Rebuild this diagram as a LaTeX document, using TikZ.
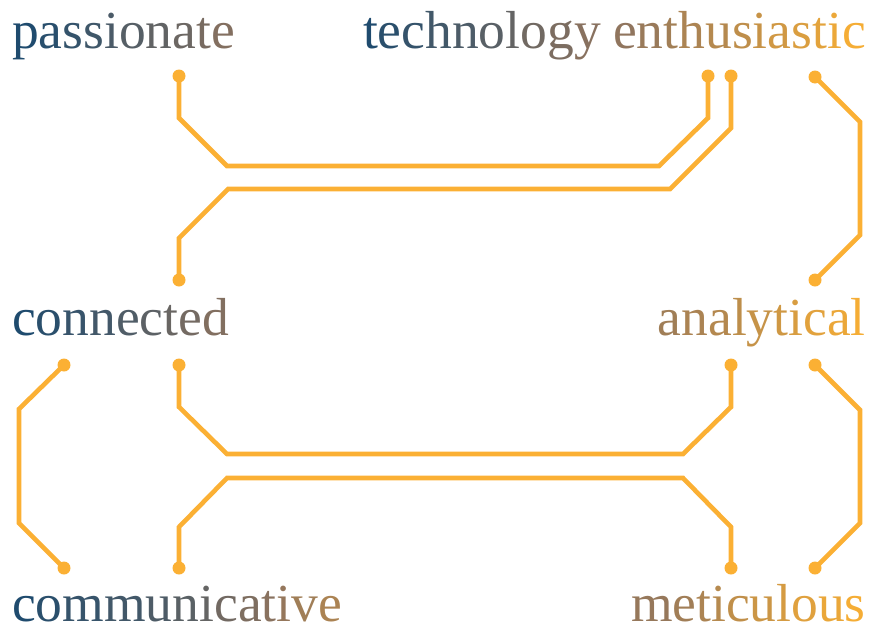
\documentclass[tikz,border=0pt]{standalone}
\usepackage{fontspec}
\usepackage{xstring}
\setmainfont{Liberation Serif}

\definecolor{wblue}{HTML}{1F4B6E}
\definecolor{wmid}{HTML}{8F745E}
\definecolor{worange}{HTML}{F5AD35}
\definecolor{traceorange}{HTML}{FBB034}

% letter by letter colour ramp: blue -> mid -> orange, from fraction #1 to #2
\newcommand{\gradword}[3]{%
  \StrLen{#3}[\gwLen]%
  \foreach \gwI in {1,...,\gwLen}{%
    \pgfmathsetmacro\gwF{#1+(#2-#1)*(\gwI-1)/(\gwLen-1)}%
    \StrChar{#3}{\gwI}[\gwChar]%
    \pgfmathtruncatemacro\gwLow{\gwF<0.5}%
    \ifnum\gwLow=1
      \pgfmathtruncatemacro\gwP{200*\gwF}%
      \textcolor{wmid!\gwP!wblue}{\gwChar}%
    \else
      \pgfmathtruncatemacro\gwP{200*\gwF-100}%
      \textcolor{worange!\gwP!wmid}{\gwChar}%
    \fi}}

\tikzset{
  word/.style={inner sep=0pt, font=\fontsize{53.5}{60}\selectfont},
  pad/.style={circle, fill=traceorange, inner sep=0pt, minimum size=13pt},
  trace/.style={draw=traceorange, line width=4.6pt, line join=miter}
}

\begin{document}
\begin{tikzpicture}[x=1pt, y=-1pt]
    \useasboundingbox (0,0) rectangle (871,627);

    % words
    \node[word, anchor=base west] (passionate) at (12,48) {\gradword{0}{0.45}{passionate}};
    \node[word, anchor=base east] (enth) at (866,48) {\gradword{0.51}{1}{enthusiastic}};
    \node[word, anchor=base east] (tech) at ([xshift=-12pt]enth.base west) {\gradword{0}{0.47}{technology}};
    \node[word, anchor=base west] (connected) at (12,335) {\gradword{0}{0.44}{connected}};
    \node[word, anchor=base east] (analytical) at (866,335) {\gradword{0.59}{1}{analytical}};
    \node[word, anchor=base west] (communicative) at (12,621) {\gradword{0}{0.64}{communicative}};
    \node[word, anchor=base east] (meticulous) at (866,621) {\gradword{0.54}{1}{meticulous}};

    % pads
    \node[pad] (pa1) at (179,76) {};
    \node[pad] (te1) at (708,76) {};
    \node[pad] (en1) at (731,76) {};
    \node[pad] (en2) at (815,77) {};
    \node[pad] (co1) at (179,280) {};
    \node[pad] (an1) at (815,280) {};
    \node[pad] (co2) at (64,365) {};
    \node[pad] (co3) at (179,365) {};
    \node[pad] (an2) at (731,365) {};
    \node[pad] (an3) at (815,365) {};
    \node[pad] (cm1) at (64,568) {};
    \node[pad] (cm2) at (179,568) {};
    \node[pad] (me1) at (731,568) {};
    \node[pad] (me2) at (815,568) {};

    % traces
    \draw[trace] (pa1.center) -- (179,118) -- (227,166) -- (659,166) -- (708,118) -- (te1.center);
    \draw[trace] (en1.center) -- (731,128) -- (670,189) -- (228,189) -- (179,238) -- (co1.center);
    \draw[trace] (en2.center) -- (860,122) -- (860,235) -- (an1.center);
    \draw[trace] (co2.center) -- (19,409) -- (19,523) -- (cm1.center);
    \draw[trace] (co3.center) -- (179,407) -- (227,454) -- (683,454) -- (731,407) -- (an2.center);
    \draw[trace] (cm2.center) -- (179,527) -- (227,478) -- (683,478) -- (731,527) -- (me1.center);
    \draw[trace] (an3.center) -- (860,410) -- (860,523) -- (me2.center);
\end{tikzpicture}
\end{document}
